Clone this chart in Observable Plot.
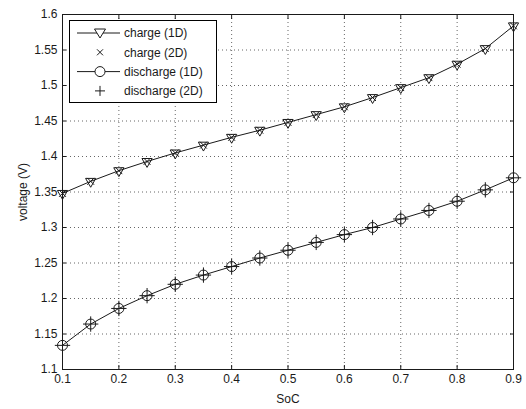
<!DOCTYPE html>
<html>
<head>
<meta charset="utf-8">
<script src="https://cdn.jsdelivr.net/npm/d3@7"></script>
<script src="https://cdn.jsdelivr.net/npm/@observablehq/plot@0.6"></script>
<style>
  html, body { margin: 0; padding: 0; background: #fff; }
  #wrap { position: relative; width: 526px; height: 409px; font-family: "Liberation Sans", Arial, sans-serif; }
  #legend { position: absolute; left: 69px; top: 20px; width: 148px; height: 83px; background: #fff; border: 1px solid #000; box-sizing: border-box; }
</style>
</head>
<body>
<div id="wrap"></div>
<script>
const soc = [0.1, 0.15, 0.2, 0.25, 0.3, 0.35, 0.4, 0.45, 0.5, 0.55, 0.6, 0.65, 0.7, 0.75, 0.8, 0.85, 0.9];
const chargeV = [1.348, 1.365, 1.380, 1.393, 1.405, 1.416, 1.427, 1.437, 1.448, 1.459, 1.470, 1.483, 1.497, 1.511, 1.530, 1.552, 1.584];
const dischargeV = [1.134, 1.164, 1.186, 1.204, 1.220, 1.233, 1.245, 1.257, 1.268, 1.279, 1.290, 1.300, 1.312, 1.324, 1.337, 1.353, 1.370];
const xTicks = [0.1, 0.2, 0.3, 0.4, 0.5, 0.6, 0.7, 0.8, 0.9];
const yTicks = [1.1, 1.15, 1.2, 1.25, 1.3, 1.35, 1.4, 1.45, 1.5, 1.55, 1.6];
const seriesNames = ["charge (1D)", "charge (2D)", "discharge (1D)", "discharge (2D)"];

const charge = soc.map((s, i) => ({soc: s, v: chargeV[i]}));
const discharge = soc.map((s, i) => ({soc: s, v: dischargeV[i]}));
const ink = "#1a1a1a";
const fmt = d => String(+d.toFixed(2));

const chart = Plot.plot({
  width: 526,
  height: 409,
  marginLeft: 62,
  marginRight: 13,
  marginTop: 14,
  marginBottom: 40,
  style: {fontFamily: "Liberation Sans, Arial, sans-serif", fontSize: "12px", color: ink, background: "#fff"},
  x: {domain: [0.1, 0.9], ticks: xTicks, label: null},
  y: {domain: [1.1, 1.6], ticks: yTicks, label: null},
  marks: [
    Plot.gridX(xTicks, {stroke: "#000", strokeOpacity: 0.6, strokeDasharray: "1,3"}),
    Plot.gridY(yTicks, {stroke: "#000", strokeOpacity: 0.6, strokeDasharray: "1,3"}),
    Plot.axisX(xTicks, {anchor: "bottom", tickSize: 0, tickPadding: 5, tickFormat: fmt, label: "SoC", labelAnchor: "center", labelOffset: 33, labelArrow: "none"}),
    Plot.axisY(yTicks, {anchor: "left", tickSize: 0, tickPadding: 5, tickFormat: fmt, label: "voltage (V)", labelAnchor: "center", labelOffset: 44, labelArrow: "none"}),
    Plot.axisX(xTicks, {anchor: "bottom", tickSize: -4, text: null, label: null, stroke: ink}),
    Plot.axisX(xTicks, {anchor: "top", tickSize: -4, text: null, label: null, stroke: ink}),
    Plot.axisY(yTicks, {anchor: "left", tickSize: -4, text: null, label: null, stroke: ink}),
    Plot.axisY(yTicks, {anchor: "right", tickSize: -4, text: null, label: null, stroke: ink}),
    Plot.frame({stroke: ink, strokeWidth: 1}),
    Plot.line(charge, {x: "soc", y: "v", stroke: ink, strokeWidth: 1}),
    Plot.line(discharge, {x: "soc", y: "v", stroke: ink, strokeWidth: 1}),
    Plot.dot(charge, {x: "soc", y: "v", symbol: "triangle", rotate: 180, r: 3.8, stroke: ink, fill: "none", strokeWidth: 1}),
    Plot.dot(charge, {x: "soc", y: "v", symbol: "times", r: 3.2, stroke: ink, strokeWidth: 1}),
    Plot.dot(discharge, {x: "soc", y: "v", symbol: "circle", r: 5, stroke: ink, fill: "none", strokeWidth: 1}),
    Plot.dot(discharge, {x: "soc", y: "v", symbol: "plus", r: 5, stroke: ink, strokeWidth: 1})
  ]
});
document.getElementById("wrap").appendChild(chart);

// Legend (HTML/SVG overlay inside the axes box)
const legend = document.createElement("div");
legend.id = "legend";
const symbols = [
  {sym: "triangle", line: true},
  {sym: "times", line: false},
  {sym: "circle", line: true},
  {sym: "plus", line: false}
];
let svg = `<svg width="146" height="81" xmlns="http://www.w3.org/2000/svg" style="font-family:'Liberation Sans',Arial,sans-serif;font-size:12px">`;
seriesNames.forEach((name, i) => {
  const cy = 12 + i * 19.3;
  const cx = 30;
  const s = symbols[i];
  if (s.line) svg += `<line x1="7" x2="50" y1="${cy}" y2="${cy}" stroke="${ink}" stroke-width="1"/>`;
  if (s.sym === "triangle") svg += `<path d="M${cx-5.5},${cy-4} L${cx+5.5},${cy-4} L${cx},${cy+5} Z" fill="#fff" stroke="${ink}"/>`;
  if (s.sym === "times") svg += `<path d="M${cx-3},${cy-3} L${cx+3},${cy+3} M${cx-3},${cy+3} L${cx+3},${cy-3}" stroke="${ink}"/>`;
  if (s.sym === "circle") svg += `<circle cx="${cx}" cy="${cy}" r="5" fill="#fff" stroke="${ink}"/>`;
  if (s.sym === "plus") svg += `<path d="M${cx-5},${cy} L${cx+5},${cy} M${cx},${cy-5} L${cx},${cy+5}" stroke="${ink}"/>`;
  svg += `<text x="54" y="${cy}" dy="0.35em" fill="${ink}">${name}</text>`;
});
svg += `</svg>`;
legend.innerHTML = svg;
document.getElementById("wrap").appendChild(legend);
</script>
</body>
</html>
